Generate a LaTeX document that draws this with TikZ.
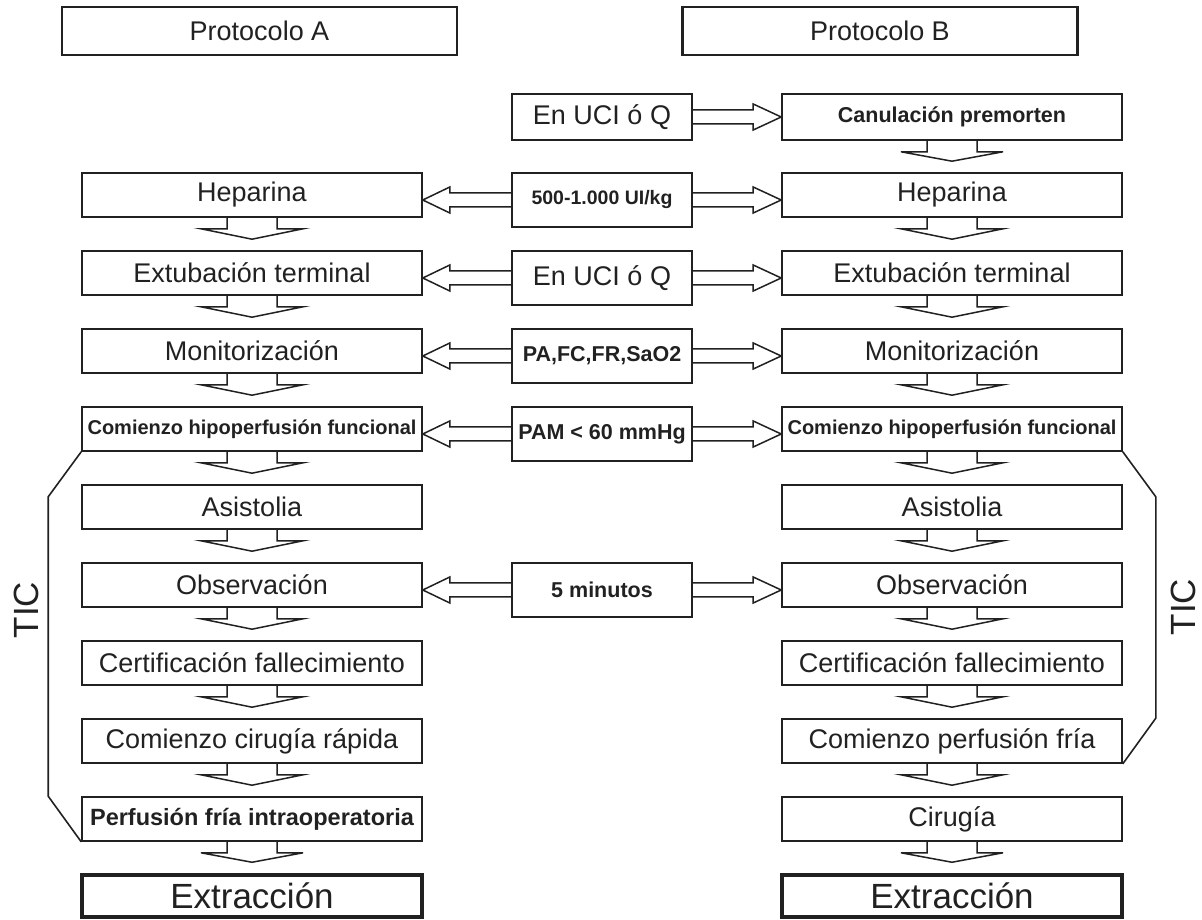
\documentclass[tikz,border=0pt]{standalone}
\usepackage{fontspec}
\setmainfont{Liberation Sans}
\usetikzlibrary{calc}
\definecolor{ink}{gray}{0.13}
\tikzset{
  box/.style={draw=ink, line width=1.6pt, minimum width=340pt, minimum height=44pt,
    inner sep=0pt, text=ink, font=\fontsize{27}{30}\selectfont},
  cbox/.style={box, minimum width=180pt, minimum height=54pt},
  hdbox/.style={box, line width=2.4pt, minimum width=395pt, minimum height=48pt},
  endbox/.style={box, line width=3.5pt, minimum height=42pt, font=\fontsize{35}{38}\selectfont},
  bsmall/.style={font=\fontsize{21.5}{24}\selectfont\bfseries},
  barrow/.style={draw=ink, line width=1.5pt, line join=miter},
  bracket/.style={draw=ink, line width=1.6pt},
  ticlabel/.style={text=ink, font=\fontsize{35}{38}\selectfont, rotate=90, inner sep=0pt}
}
% down block arrow from node #1 to node #2
\newcommand{\mydown}[2]{%
  \draw[barrow] ([xshift=-25pt]#1.south) -- ([xshift=-25pt,yshift=-11pt]#1.south)
    -- ([xshift=-51pt,yshift=-11pt]#1.south) -- ([yshift=11pt]#2.north)
    -- ([xshift=51pt,yshift=-11pt]#1.south) -- ([xshift=25pt,yshift=-11pt]#1.south)
    -- ([xshift=25pt]#1.south);}
% left block arrow from centre node #1 to side node #2
\newcommand{\myleft}[2]{%
  \coordinate (tl#1) at (#1.west -| #2.east);
  \draw[barrow] ([yshift=7pt]#1.west) -- ([xshift=27pt,yshift=7pt]tl#1)
    -- ([xshift=27pt,yshift=13pt]tl#1) -- (tl#1) -- ([xshift=27pt,yshift=-13pt]tl#1)
    -- ([xshift=27pt,yshift=-7pt]tl#1) -- ([yshift=-7pt]#1.west);}
% right block arrow from centre node #1 to side node #2
\newcommand{\myright}[2]{%
  \coordinate (tr#1) at (#1.east -| #2.west);
  \draw[barrow] ([yshift=7pt]#1.east) -- ([xshift=-28pt,yshift=7pt]tr#1)
    -- ([xshift=-28pt,yshift=13pt]tr#1) -- (tr#1) -- ([xshift=-28pt,yshift=-13pt]tr#1)
    -- ([xshift=-28pt,yshift=-7pt]tr#1) -- ([yshift=-7pt]#1.east);}

\begin{document}
\begin{tikzpicture}[x=1pt,y=1pt]
\useasboundingbox (0,0) rectangle (1202,919);

% headers
\node[hdbox] (pa) at (259.5,888) {Protocolo A};
\node[hdbox] (pb) at (880,888) {Protocolo B};

% left column
\node[box] (l1) at (252,724) {Heparina};
\node[box] (l2) at (252,646) {Extubación terminal};
\node[box] (l3) at (252,568) {Monitorización};
\node[box, font=\fontsize{20}{22}\selectfont\bfseries] (l4) at (252,490) {Comienzo hipoperfusión funcional};
\node[box] (l5) at (252,412) {Asistolia};
\node[box] (l6) at (252,334) {Observación};
\node[box] (l7) at (252,256) {Certificación fallecimiento};
\node[box] (l8) at (252,178) {Comienzo cirugía rápida};
\node[box, font=\fontsize{23.5}{26}\selectfont\bfseries] (l9) at (252,100) {Perfusión fría intraoperatoria};
\node[endbox] (l10) at (252,23) {Extracción};

% right column
\node[box, bsmall, minimum height=46pt] (r0) at (952,802) {Canulación premorten};
\node[box] (r1) at (952,724) {Heparina};
\node[box] (r2) at (952,646) {Extubación terminal};
\node[box] (r3) at (952,568) {Monitorización};
\node[box, font=\fontsize{20}{22}\selectfont\bfseries] (r4) at (952,490) {Comienzo hipoperfusión funcional};
\node[box] (r5) at (952,412) {Asistolia};
\node[box] (r6) at (952,334) {Observación};
\node[box] (r7) at (952,256) {Certificación fallecimiento};
\node[box] (r8) at (952,178) {Comienzo perfusión fría};
\node[box] (r9) at (952,100) {Cirugía};
\node[endbox] (r10) at (952,23) {Extracción};

% centre column
\node[cbox, minimum height=46pt] (c0) at (602,802) {En UCI ó Q};
\node[cbox, font=\fontsize{19.5}{22}\selectfont\bfseries] (c1) at (602,719) {500-1.000 UI/kg};
\node[cbox] (c2) at (602,641) {En UCI ó Q};
\node[cbox, bsmall] (c3) at (602,563) {PA,FC,FR,SaO2};
\node[cbox, bsmall] (c4) at (602,485) {PAM < 60 mmHg};
\node[cbox, bsmall] (c6) at (602,329) {5 minutos};

% down arrows
\mydown{l1}{l2}\mydown{l2}{l3}\mydown{l3}{l4}\mydown{l4}{l5}\mydown{l5}{l6}
\mydown{l6}{l7}\mydown{l7}{l8}\mydown{l8}{l9}\mydown{l9}{l10}
\mydown{r0}{r1}\mydown{r1}{r2}\mydown{r2}{r3}\mydown{r3}{r4}\mydown{r4}{r5}
\mydown{r5}{r6}\mydown{r6}{r7}\mydown{r7}{r8}\mydown{r8}{r9}\mydown{r9}{r10}

% horizontal arrows
\myright{c0}{r0}
\myleft{c1}{l1}\myright{c1}{r1}
\myleft{c2}{l2}\myright{c2}{r2}
\myleft{c3}{l3}\myright{c3}{r3}
\myleft{c4}{l4}\myright{c4}{r4}
\myleft{c6}{l6}\myright{c6}{r6}

% TIC brackets
\draw[bracket] (l4.south west) -- ++(-33,-45) -- ([xshift=-33pt]l9.north west) -- (l9.south west);
\draw[bracket] (r4.south east) -- ++(33,-45) -- ([xshift=33pt]r8.north east) -- (r8.south east);
\node[ticlabel] (ticl) at (26,309) {TIC};
\node[ticlabel] (ticr) at (1183,312) {TIC};
\end{tikzpicture}
\end{document}
